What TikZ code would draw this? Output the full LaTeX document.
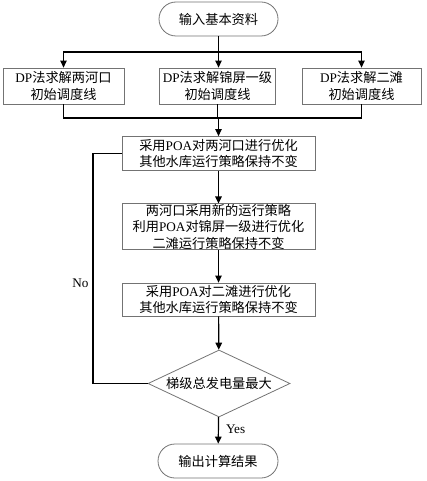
\documentclass[tikz,border=0pt]{standalone}
\usepackage{fontspec}
\setmainfont{Liberation Serif}
\newfontfamily\cjk{Noto Sans CJK SC}
\usetikzlibrary{shapes.geometric,arrows.meta}
\newcommand\zh[1]{{\cjk #1}}
\tikzset{
  txt/.style={font=\fontsize{13.2}{16.5}\selectfont, align=center, inner sep=0pt},
  box/.style={txt, draw=black!55, line width=0.8pt, fill=white},
  term/.style={box, rounded corners=17pt},
  dec/.style={txt, draw=black!55, line width=0.8pt, diamond, aspect=2.1},
  conn/.style={line width=1.2pt, black},
  arr/.style={conn, -{Triangle[length=7pt,width=6.5pt]}}
}
\begin{document}
\begin{tikzpicture}[x=1pt,y=-1pt]
\useasboundingbox (0,0) rectangle (426,481);
\node[term, minimum width=119pt, minimum height=34pt] (start) at (218.5,19) {\zh{输入基本资料}};
\node[box, minimum width=121pt, minimum height=36pt] (b1) at (63.5,86) {DP\zh{法求解两河口}\\\zh{初始调度线}};
\node[box, minimum width=116pt, minimum height=36pt] (b2) at (217.5,86) {DP\zh{法求解锦屏一级}\\\zh{初始调度线}};
\node[box, minimum width=119pt, minimum height=36pt] (b3) at (361.5,86) {DP\zh{法求解二滩}\\\zh{初始调度线}};
\node[box, minimum width=193pt, minimum height=34pt] (b4) at (218.5,153.5) {\zh{采用}POA\zh{对两河口进行优化}\\\zh{其他水库运行策略保持不变}};
\node[box, minimum width=193pt, minimum height=45pt] (b5) at (218.5,226.5) {\zh{两河口采用新的运行策略}\\\zh{利用}POA\zh{对锦屏一级进行优化}\\\zh{二滩运行策略保持不变}};
\node[box, minimum width=193pt, minimum height=33pt] (b6) at (218.5,299.5) {\zh{采用}POA\zh{对二滩进行优化}\\\zh{其他水库运行策略保持不变}};
\node[dec, minimum width=142pt, minimum height=67pt] (dia) at (219,383.5) {\zh{梯级总发电量最大}};
\node[term, minimum width=120pt, minimum height=34pt] (end) at (218,461) {\zh{输出计算结果}};
\coordinate (j1) at (218.5,52);
\coordinate (j2) at (218.5,118);
\coordinate (fb) at (93,383.5);
% fan out
\draw[conn] (start) -- (j1);
\draw[arr] (j1) -| (b1.north);
\draw[arr] (j1) -- (j1 |- b2.north);
\draw[arr] (j1) -| (b3.north);
% fan in
\draw[conn] (b1.south) |- (j2) -| (b3.south);
\draw[conn] (b2.south) -- (b2.south |- j2);
\draw[arr] (j2) -- (b4.north);
\draw[arr] (b4) -- (b5);
\draw[arr] (b5) -- (b6);
\draw[arr] (b6) -- (dia);
\draw[arr] (dia) -- node[txt, right=7pt, pos=0.45] (yes) {Yes} (end);
\draw[conn] (dia.west) -- (fb) |- (b4.west);
\node[txt] (no) at (80.5,283) {No};
\end{tikzpicture}
\end{document}
